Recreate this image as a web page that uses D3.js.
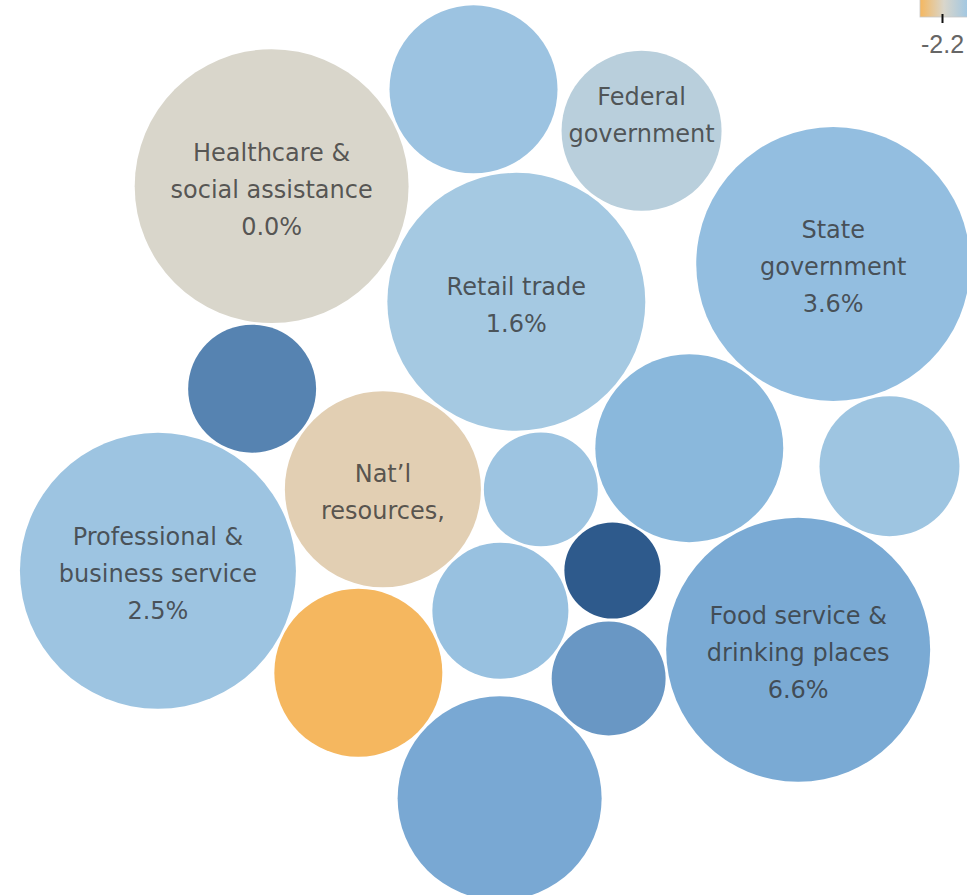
<!DOCTYPE html>
<html>
<head>
<meta charset="utf-8">
<script src="https://cdn.jsdelivr.net/npm/d3@7"></script>
<style>
    body { margin: 0; background: #fff; }
    svg { display: block; }
    .bubble-label { font-family: "DejaVu Sans", sans-serif; font-size: 24px; fill: #333; fill-opacity: 0.8; }
    .legend text { font-family: "Liberation Sans", Arial, sans-serif; font-size: 25px; fill: #666; }
</style>
</head>
<body>
<div id="chart"></div>
<script>
// Sector label lines (empty = bubble too small, Tableau hides the label)
const sectorLabels = [
    ["Healthcare &", "social assistance"],
    [],
    ["Federal", "government"],
    ["State", "government"],
    ["Retail trade"],
    [],
    ["Nat\u2019l", "resources,"],
    [],
    [],
    [],
    ["Professional &", "business service"],
    [],
    [],
    [],
    ["Food service &", "drinking places"],
    [],
    []
];
// how the % line is handled: show / hide (truncated but keeps its space) / drop
const valueLine = ["show", "", "hide", "show", "show", "", "drop", "", "", "", "show", "", "", "", "show", "", ""];

// % change in jobs (colour)
const pctChange = [0.0, 2.6, 0.7, 3.6, 1.6, 9.3, -0.5, 2.5, 4.6, 2.4, 2.5, 12.0, 3.0, -2.2, 6.6, 8.0, 6.8];

// jobs, thousands (bubble size)
const jobs = [186, 70, 63.5, 186, 165, 40.6, 95.3, 32.2, 87.6, 48.6, 188.9, 22.9, 45.9, 70, 172.8, 32.2, 103.2];

// packed-bubble placement hints (0-100 pack space), relaxed by a force layout
const packHintX = [28.13, 48.81, 66.18, 86.04, 53.46, 26.37, 39.61, 55.84, 71.25, 91.83, 16.55, 63.18, 51.71, 37.23, 82.42, 62.77, 51.71];
const packHintY = [21.01, 10.06, 14.86, 29.72, 33.63, 43.58, 54.64, 54.75, 50.17, 52.18, 63.69, 63.58, 68.04, 74.97, 72.51, 75.53, 88.83];

const width = 967, height = 895;

const svg = d3.select("#chart")
    .append("svg")
    .attr("width", width)
    .attr("height", height);

// scales
const r = d3.scaleSqrt().domain([0, 200]).range([0, 142]);
const x = d3.scaleLinear().domain([0, 100]).range([0, width]);
const y = d3.scaleLinear().domain([0, 100]).range([0, height]);
const color = d3.scaleLinear()
    .domain([-2.2, 0, 1, 4, 7, 12])
    .range(["#f5b75f", "#d9d6cb", "#aacce3", "#8fbcdf", "#77a7d2", "#2e5a8c"])
    .interpolate(d3.interpolateLab);

const nodes = jobs.map(function(v, i) {
    return { i: i, r: r(v), tx: x(packHintX[i]), ty: y(packHintY[i]), x: x(packHintX[i]), y: y(packHintY[i]) };
});

// let d3 settle the bubbles so they don't overlap
const sim = d3.forceSimulation(nodes)
    .force("x", d3.forceX(function(d) { return d.tx; }).strength(0.6))
    .force("y", d3.forceY(function(d) { return d.ty; }).strength(0.6))
    .force("collide", d3.forceCollide(function(d) { return d.r + 1.5; }))
    .stop();
for (let k = 0; k < 120; k++) sim.tick();

// bubbles
svg.append("g")
    .selectAll("circle")
    .data(nodes)
    .enter()
    .append("circle")
    .attr("cx", function(d) { return d.x; })
    .attr("cy", function(d) { return d.y; })
    .attr("r", function(d) { return d.r; })
    .style("fill", function(d) { return color(pctChange[d.i]); });

// labels
const lineH = 37;
const labelled = nodes.filter(function(d) { return sectorLabels[d.i].length > 0; });

const labels = svg.append("g")
    .selectAll("text")
    .data(labelled)
    .enter()
    .append("text")
    .attr("class", "bubble-label")
    .attr("text-anchor", "middle");

labels.each(function(d) {
    const lines = sectorLabels[d.i].slice();
    const mode = valueLine[d.i];
    if (mode !== "drop") lines.push(pctChange[d.i].toFixed(1) + "%");
    d3.select(this).selectAll("tspan")
        .data(lines)
        .enter()
        .append("tspan")
        .attr("x", d.x)
        .attr("y", function(s, k) { return d.y + 3 + (k - (lines.length - 1) / 2) * lineH; })
        .attr("dy", "0.35em")
        .style("visibility", function(s, k) { return (mode === "hide" && k === lines.length - 1) ? "hidden" : null; })
        .text(function(s) { return s; });
});

// colour legend (top right, cut off by the frame like the original)
const lx = d3.scaleLinear().domain([-2.2, 3]).range([942, 1000]);

const defs = svg.append("defs");
const grad = defs.append("linearGradient").attr("id", "legendGrad");
[[0, -2.2], [0.4, 0], [0.8, 2], [1, 3]].forEach(function(s) {
    grad.append("stop").attr("offset", s[0]).attr("stop-color", color(s[1]));
});

const legend = svg.append("g").attr("class", "legend");

legend.append("rect")
    .attr("x", lx(-2.2) - 22)
    .attr("y", -1)
    .attr("width", 60)
    .attr("height", 18)
    .style("fill", "url(#legendGrad)")
    .style("stroke", "#c8c8c8")
    .style("stroke-width", 0.8);

legend.append("g")
    .attr("transform", "translate(0,14)")
    .call(d3.axisBottom(lx)
        .tickValues([-2.2])
        .tickSize(9)
        .tickPadding(12)
        .tickFormat(function(d) { return d.toFixed(1); }))
    .call(function(g) { g.select(".domain").remove(); })
    .call(function(g) { g.selectAll(".tick line").attr("stroke", "#111").attr("stroke-width", 2); })
    .call(function(g) { g.selectAll(".tick text").attr("fill", "#666").style("font-size", "25px").attr("font-family", null); });
</script>
</body>
</html>
